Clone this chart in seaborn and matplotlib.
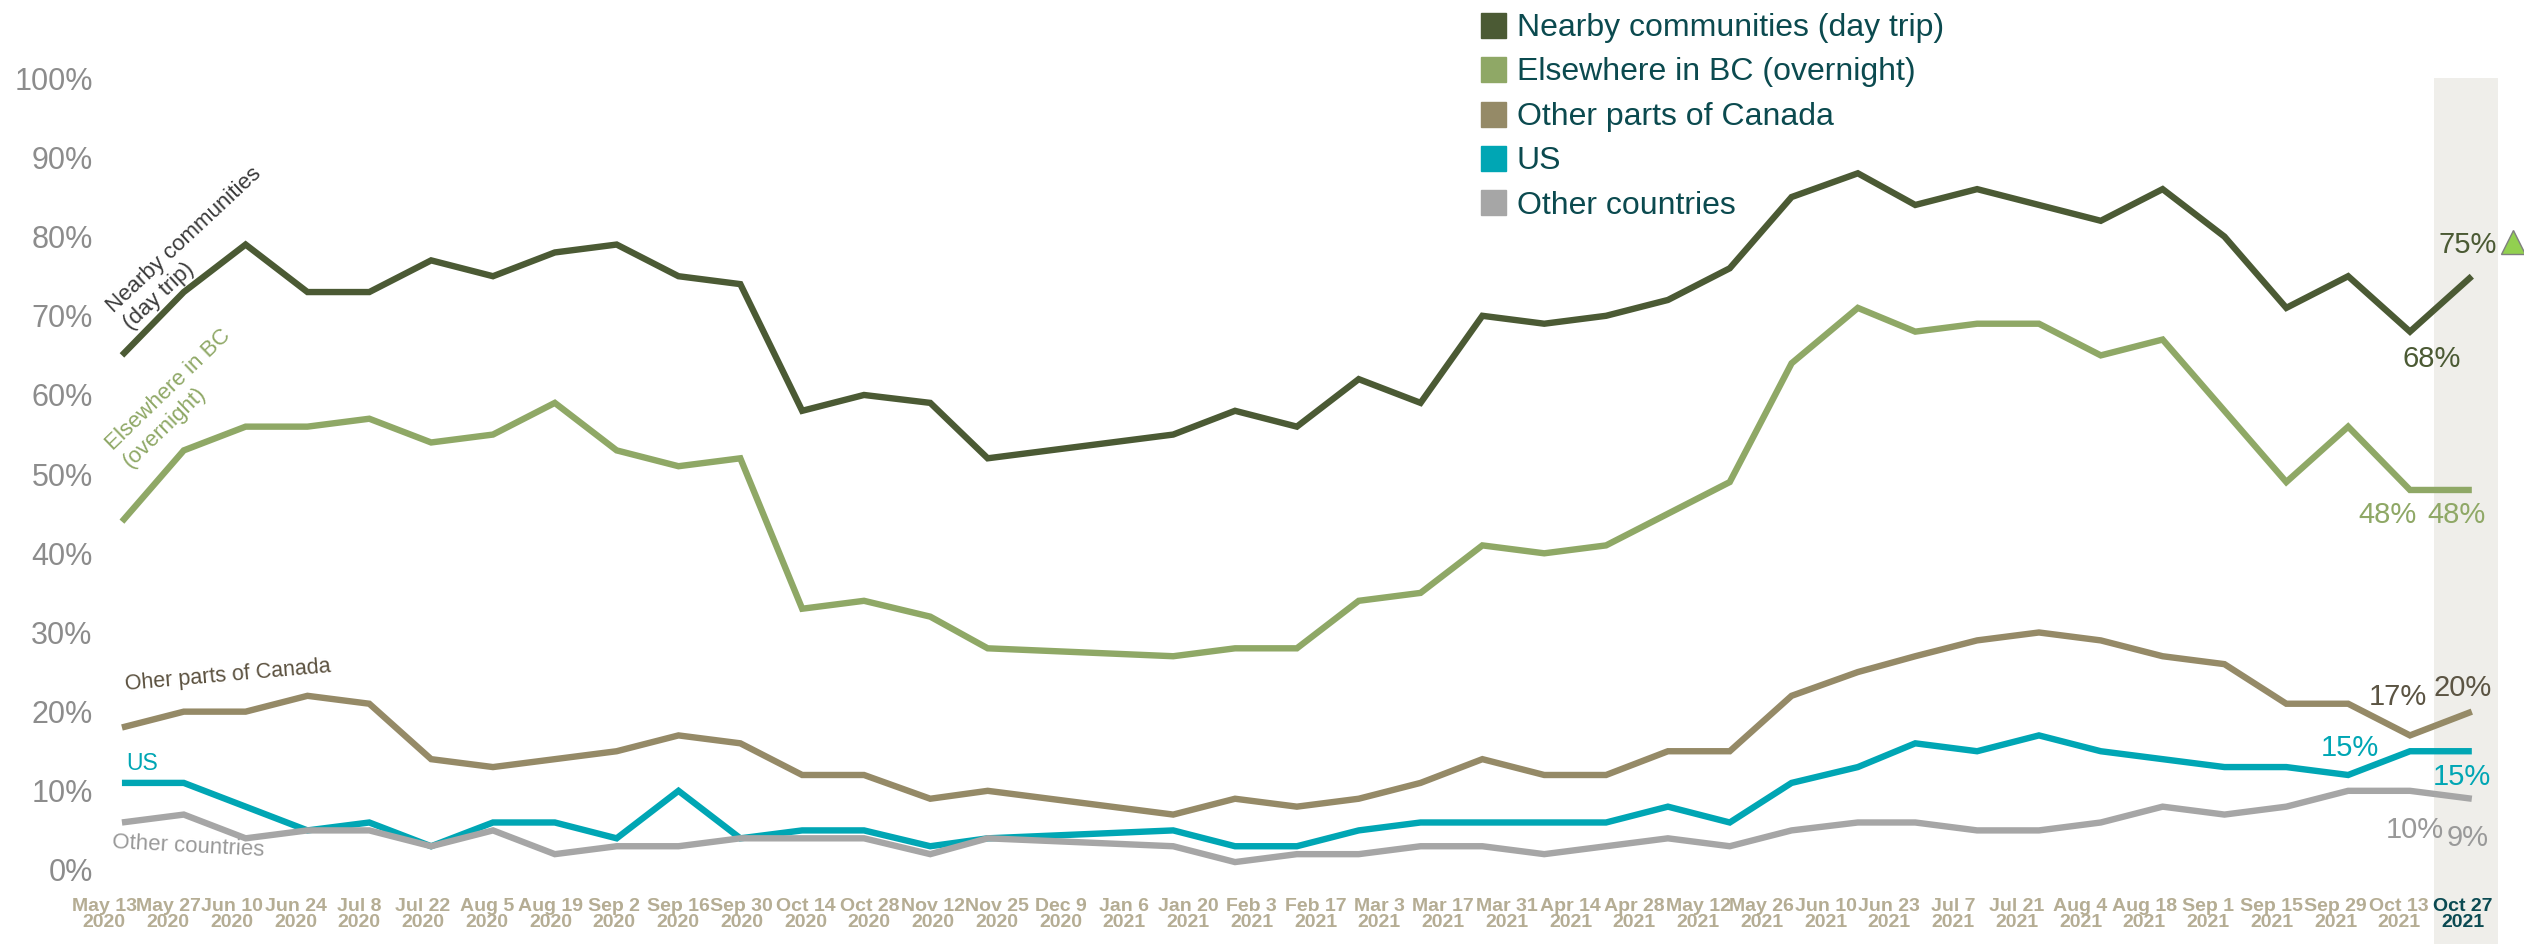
import numpy as np
import pandas as pd
import matplotlib
matplotlib.use("Agg")
import matplotlib.pyplot as plt
import matplotlib.dates as mdates
from matplotlib import font_manager
from matplotlib.lines import Line2D
import seaborn as sns

# survey waves (Dec 9 2020 has no data)
dates = ["2020-05-13", "2020-05-27", "2020-06-10", "2020-06-24", "2020-07-08", "2020-07-22",
         "2020-08-05", "2020-08-19", "2020-09-02", "2020-09-16", "2020-09-30", "2020-10-14",
         "2020-10-28", "2020-11-12", "2020-11-25", "2020-12-09", "2021-01-06", "2021-01-20",
         "2021-02-03", "2021-02-17", "2021-03-03", "2021-03-17", "2021-03-31", "2021-04-14",
         "2021-04-28", "2021-05-12", "2021-05-26", "2021-06-10", "2021-06-23", "2021-07-07",
         "2021-07-21", "2021-08-04", "2021-08-18", "2021-09-01", "2021-09-15", "2021-09-29",
         "2021-10-13", "2021-10-27"]

tick_labels = ["May 13\n2020", "May 27\n2020", "Jun 10\n2020", "Jun 24\n2020", "Jul 8\n2020",
               "Jul 22\n2020", "Aug 5\n2020", "Aug 19\n2020", "Sep 2\n2020", "Sep 16\n2020",
               "Sep 30\n2020", "Oct 14\n2020", "Oct 28\n2020", "Nov 12\n2020", "Nov 25\n2020",
               "Dec 9\n2020", "Jan 6\n2021", "Jan 20\n2021", "Feb 3\n2021", "Feb 17\n2021",
               "Mar 3\n2021", "Mar 17\n2021", "Mar 31\n2021", "Apr 14\n2021", "Apr 28\n2021",
               "May 12\n2021", "May 26\n2021", "Jun 10\n2021", "Jun 23\n2021", "Jul 7\n2021",
               "Jul 21\n2021", "Aug 4\n2021", "Aug 18\n2021", "Sep 1\n2021", "Sep 15\n2021",
               "Sep 29\n2021", "Oct 13\n2021", "Oct 27\n2021"]

nan = np.nan
nearby = [65, 73, 79, 73, 73, 77, 75, 78, 79, 75, 74, 58, 60, 59, 52, nan,
          55, 58, 56, 62, 59, 70, 69, 70, 72, 76, 85, 88, 84, 86, 84, 82, 86, 80, 71, 75, 68, 75]
elsewhere_bc = [44, 53, 56, 56, 57, 54, 55, 59, 53, 51, 52, 33, 34, 32, 28, nan,
                27, 28, 28, 34, 35, 41, 40, 41, 45, 49, 64, 71, 68, 69, 69, 65, 67, 58, 49, 56, 48, 48]
other_canada = [18, 20, 20, 22, 21, 14, 13, 14, 15, 17, 16, 12, 12, 9, 10, nan,
                7, 9, 8, 9, 11, 14, 12, 12, 15, 15, 22, 25, 27, 29, 30, 29, 27, 26, 21, 21, 17, 20]
us = [11, 11, 8, 5, 6, 3, 6, 6, 4, 10, 4, 5, 5, 3, 4, nan,
      5, 3, 3, 5, 6, 6, 6, 6, 8, 6, 11, 13, 16, 15, 17, 15, 14, 13, 13, 12, 15, 15]
other_countries = [6, 7, 4, 5, 5, 3, 5, 2, 3, 3, 4, 4, 4, 2, 4, nan,
                   3, 1, 2, 2, 3, 3, 2, 3, 4, 3, 5, 6, 6, 5, 5, 6, 8, 7, 8, 10, 10, 9]

series_names = ["Nearby communities (day trip)", "Elsewhere in BC (overnight)",
                "Other parts of Canada", "US", "Other countries"]
colors = ["#4b5a34", "#8fa866", "#958a67", "#00a6b4", "#a6a6a6"]

df = pd.DataFrame({"date": pd.to_datetime(dates)})
for name, vals in zip(series_names, [nearby, elsewhere_bc, other_canada, us, other_countries]):
    df[name] = vals
long_df = df.melt(id_vars="date", var_name="series", value_name="value").dropna()

sns.set_style("white")
plt.rcParams["font.family"] = ["Liberation Sans", "DejaVu Sans"]

# condensed bold for the date labels if available
installed = {f.name for f in font_manager.fontManager.ttflist}
if "Liberation Sans Narrow" in installed:
    xfont, xsize = "Liberation Sans Narrow", 16
else:
    xfont, xsize = "Liberation Sans", 14

fig = plt.figure(figsize=(25.24, 9.44), dpi=100)
ax = fig.add_axes([0.04, 0.0784, 0.95, 0.8806])

sns.lineplot(data=long_df, x="date", y="value", hue="series", hue_order=series_names,
             palette=colors, linewidth=4.6, legend=False, ax=ax)
for line in ax.lines:
    line.set_solid_joinstyle("miter")
    line.set_solid_capstyle("butt")

d = mdates.date2num(pd.to_datetime(dates))
ax.set_xlim(d[0] - 4.75, d[-1] + 6.1)
ax.set_ylim(0, 105)

# highlight latest wave
ax.axvspan(d[-1] - 8.5, d[-1] + 6, ymin=-0.09, ymax=100 / 105, color="#efeeea", zorder=0,
           clip_on=False, lw=0)

# y axis
ax.set_yticks(range(0, 101, 10))
ax.set_yticklabels([f"{v}%" for v in range(0, 101, 10)], fontsize=22, color="#8c8c8c")

# x labels evenly spaced like the table under the original chart
tick_pos = np.linspace(d[0] - 4, d[-1] - 2, len(tick_labels))
ax.set_xticks(tick_pos)
ax.set_xticklabels(tick_labels, fontsize=xsize, fontweight="bold", color="#b5ad94",
                   linespacing=0.95, family=[xfont, "DejaVu Sans"])
ax.get_xticklabels()[-1].set_color("#0b4a52")
ax.tick_params(axis="x", length=0, pad=20)
ax.tick_params(axis="y", length=0, pad=6)
ax.set_xlabel("")
ax.set_ylabel("")
sns.despine(ax=ax, left=True, bottom=True)

# series names at the start of the lines
ax.text(d[0] + 16, 78.5, "Nearby communities\n(day trip)", rotation=43, rotation_mode="anchor",
        ha="center", va="center", fontsize=16, color="#3a3a3a", multialignment="left")
ax.text(d[0] + 12.5, 59.5, "Elsewhere in BC\n(overnight)", rotation=44, rotation_mode="anchor",
        ha="center", va="center", fontsize=16, color=colors[1], multialignment="left")
ax.text(d[0] + 24, 24.5, "Oher parts of Canada", rotation=5, rotation_mode="anchor",
        ha="center", va="center", fontsize=15.5, color="#5b513f")
ax.text(d[0] + 1, 13.4, "US", ha="left", va="center", fontsize=16.5, color=colors[3])
ax.text(d[0] + 15, 3.0, "Other countries", rotation=-3, rotation_mode="anchor",
        ha="center", va="center", fontsize=16, color="#999999")

# end value labels
end_labels = [
    (f"{nearby[-1]}%", d[-1] - 1, 79, "#4b5a34"),
    (f"{nearby[-2]}%", d[-2] + 5, 64.6, "#4b5a34"),
    (f"{elsewhere_bc[-2]}%", d[-2] - 5, 44.8, colors[1]),
    (f"{elsewhere_bc[-1]}%", d[-1] - 3.5, 44.8, colors[1]),
    (f"{other_canada[-2]}%", d[-2] - 2.8, 21.8, "#5b5443"),
    (f"{other_canada[-1]}%", d[-1] - 2, 23, "#5b5443"),
    (f"{us[-2]}%", d[-2] - 13.6, 15.4, colors[3]),
    (f"{us[-1]}%", d[-1] - 2.3, 11.7, colors[3]),
    (f"{other_countries[-2]}%", d[-2] + 1, 5.0, "#999999"),
    (f"{other_countries[-1]}%", d[-1] - 1, 4.0, "#999999"),
]
for txt, x, y, c in end_labels:
    ax.text(x, y, txt, ha="center", va="center", fontsize=21, color=c, clip_on=False)

# up arrow next to latest nearby value
ax.plot([d[-1] + 9.3], [79.3], marker="^", markersize=17, markerfacecolor="#92d050",
        markeredgecolor="#7f7f7f", markeredgewidth=1, linestyle="none", clip_on=False)

handles = [Line2D([], [], marker="s", linestyle="none", markersize=18, color=c) for c in colors]
fig.legend(handles, series_names, loc="upper left", bbox_to_anchor=(1480 / 2524, 1 - 13 / 944),
           frameon=False, fontsize=23, handlelength=0.8, handletextpad=0.35, labelspacing=0.45,
           borderpad=0, borderaxespad=0, labelcolor="#0b4a4f")

fig.savefig("out.png", dpi=100)
